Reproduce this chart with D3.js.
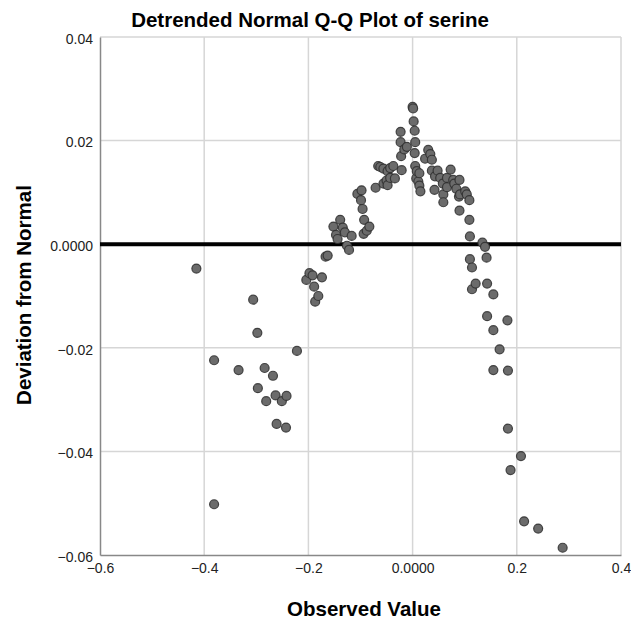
<!DOCTYPE html>
<html>
<head>
<meta charset="utf-8">
<script src="https://cdn.jsdelivr.net/npm/d3@7"></script>
<style>
  body { margin: 0; background: #fff; }
  text { font-family: "Liberation Sans", Arial, sans-serif; }
</style>
</head>
<body>
<div id="chart"></div>
<script>
var w = 631, h = 625;

var observed = [
  -0.415, -0.381, -0.381, -0.334, -0.306, -0.298, -0.297, -0.284, -0.281, -0.268,
  -0.263, -0.261, -0.251, -0.243, -0.242, -0.222, -0.204, -0.198, -0.192, -0.189,
  -0.187, -0.181, -0.174, -0.167, -0.163, -0.152, -0.147, -0.144, -0.139, -0.134,
  -0.130, -0.126, -0.122, -0.117, -0.106, -0.099, -0.098, -0.096, -0.094, -0.093,
  -0.088, -0.083, -0.071, -0.066, -0.062, -0.056, -0.056, -0.050, -0.048, -0.048,
  -0.043, -0.043, -0.037, -0.034, -0.023, -0.023, -0.022, -0.021, -0.016, -0.011,
  0.000, 0.001, 0.002, 0.004, 0.004, 0.005, 0.005, 0.007, 0.008, 0.011,
  0.013, 0.013, 0.015, 0.024, 0.030, 0.034, 0.037, 0.037, 0.042, 0.043,
  0.048, 0.053, 0.058, 0.059, 0.059, 0.066, 0.066, 0.073, 0.078, 0.080,
  0.084, 0.089, 0.090, 0.090, 0.091, 0.101, 0.104, 0.109, 0.109, 0.110,
  0.110, 0.114, 0.114, 0.121, 0.134, 0.139, 0.142, 0.143, 0.143, 0.155,
  0.155, 0.155, 0.167, 0.182, 0.183, 0.183, 0.188, 0.208, 0.214, 0.241,
  0.288
];
var deviation = [
  -0.0047, -0.0224, -0.0502, -0.0243, -0.0107, -0.0171, -0.0278, -0.0239, -0.0303, -0.0254,
  -0.0292, -0.0347, -0.0303, -0.0354, -0.0293, -0.0206, -0.0069, -0.0056, -0.0060, -0.0082,
  -0.0111, -0.0100, -0.0064, -0.0024, -0.0022, 0.0034, 0.0018, 0.0010, 0.0047, 0.0032,
  0.0023, -0.0003, -0.0011, 0.0016, 0.0097, 0.0085, 0.0104, 0.0068, 0.0020, 0.0047,
  0.0026, 0.0034, 0.0109, 0.0151, 0.0149, 0.0146, 0.0117, 0.0123, 0.0141, 0.0114,
  0.0147, 0.0128, 0.0151, 0.0127, 0.0217, 0.0197, 0.0170, 0.0143, 0.0183, 0.0188,
  0.0265, 0.0262, 0.0237, 0.0219, 0.0176, 0.0197, 0.0151, 0.0127, 0.0141, 0.0121,
  0.0137, 0.0113, 0.0102, 0.0165, 0.0182, 0.0174, 0.0163, 0.0142, 0.0105, 0.0131,
  0.0142, 0.0128, 0.0117, 0.0096, 0.0081, 0.0128, 0.0110, 0.0144, 0.0124, 0.0117,
  0.0107, 0.0092, 0.0124, 0.0065, 0.0096, 0.0102, 0.0096, 0.0085, 0.0047, 0.0015,
  -0.0029, -0.0045, -0.0087, -0.0076, 0.0003, -0.0005, -0.0026, -0.0076, -0.0139, -0.0097,
  -0.0166, -0.0243, -0.0203, -0.0147, -0.0244, -0.0356, -0.0436, -0.0409, -0.0535, -0.0549,
  -0.0586
];
var xTicks = [-0.6, -0.4, -0.2, 0.0, 0.2, 0.4];
var yTicks = [-0.06, -0.04, -0.02, 0.0, 0.02, 0.04];

var x = d3.scaleLinear().domain([-0.6, 0.4]).range([100, 621]);
var y = d3.scaleLinear().domain([-0.06, 0.04]).range([555, 37]);

var fmtX = function(d) { return d === 0 ? "0.0000" : d3.format(".1f")(d); };
var fmtY = function(d) { return d === 0 ? "0.0000" : d3.format(".2f")(d); };

var svg = d3.select("#chart")
  .append("svg")
  .attr("width", w)
  .attr("height", h);

// gridlines
svg.append("g")
  .selectAll("line")
  .data(xTicks.slice(1))
  .enter().append("line")
  .attr("x1", function(d) { return x(d); })
  .attr("x2", function(d) { return x(d); })
  .attr("y1", y(0.04))
  .attr("y2", y(-0.06))
  .attr("stroke", "#d6d6d6")
  .attr("stroke-width", 1.5);

svg.append("g")
  .selectAll("line")
  .data(yTicks.slice(1))
  .enter().append("line")
  .attr("x1", x(-0.6))
  .attr("x2", x(0.4))
  .attr("y1", function(d) { return y(d); })
  .attr("y2", function(d) { return y(d); })
  .attr("stroke", "#d6d6d6")
  .attr("stroke-width", 1.5);

// axes
var xAxis = svg.append("g")
  .attr("transform", "translate(0," + y(-0.06) + ")")
  .call(d3.axisBottom(x).tickValues(xTicks).tickFormat(fmtX).tickSize(0).tickPadding(8));
var yAxis = svg.append("g")
  .attr("transform", "translate(" + x(-0.6) + ",0)")
  .call(d3.axisLeft(y).tickValues(yTicks).tickFormat(fmtY).tickSize(0).tickPadding(7));

[xAxis, yAxis].forEach(function(a) {
  a.select(".domain").attr("stroke", "#888").attr("stroke-width", 1.5);
  a.selectAll("text")
    .attr("fill", "#222")
    .style("font-size", "14px")
    .style("font-family", "'Liberation Sans', Arial, sans-serif");
});
yAxis.selectAll(".tick text").attr("dy", "0.45em");

// reference line at zero
svg.append("line")
  .attr("x1", x(-0.6))
  .attr("x2", x(0.4))
  .attr("y1", y(0))
  .attr("y2", y(0))
  .attr("stroke", "#000")
  .attr("stroke-width", 4);

// points
svg.append("g")
  .selectAll("circle")
  .data(observed)
  .enter().append("circle")
  .attr("cx", function(d) { return x(d); })
  .attr("cy", function(d, i) { return y(deviation[i]); })
  .attr("r", 4.5)
  .attr("fill", "#6b6b6b")
  .attr("stroke", "#2e2e2e")
  .attr("stroke-opacity", 0.85)
  .attr("stroke-width", 1.2);

// titles
svg.append("text")
  .attr("x", 310)
  .attr("y", 27)
  .attr("text-anchor", "middle")
  .style("font-size", "20.5px")
  .style("font-weight", "bold")
  .text("Detrended Normal Q-Q Plot of serine");

svg.append("text")
  .attr("x", 364)
  .attr("y", 616)
  .attr("text-anchor", "middle")
  .style("font-size", "20.5px")
  .style("font-weight", "bold")
  .text("Observed Value");

svg.append("text")
  .attr("transform", "translate(31,295) rotate(-90)")
  .attr("text-anchor", "middle")
  .style("font-size", "20.5px")
  .style("font-weight", "bold")
  .text("Deviation from Normal");
</script>
</body>
</html>
